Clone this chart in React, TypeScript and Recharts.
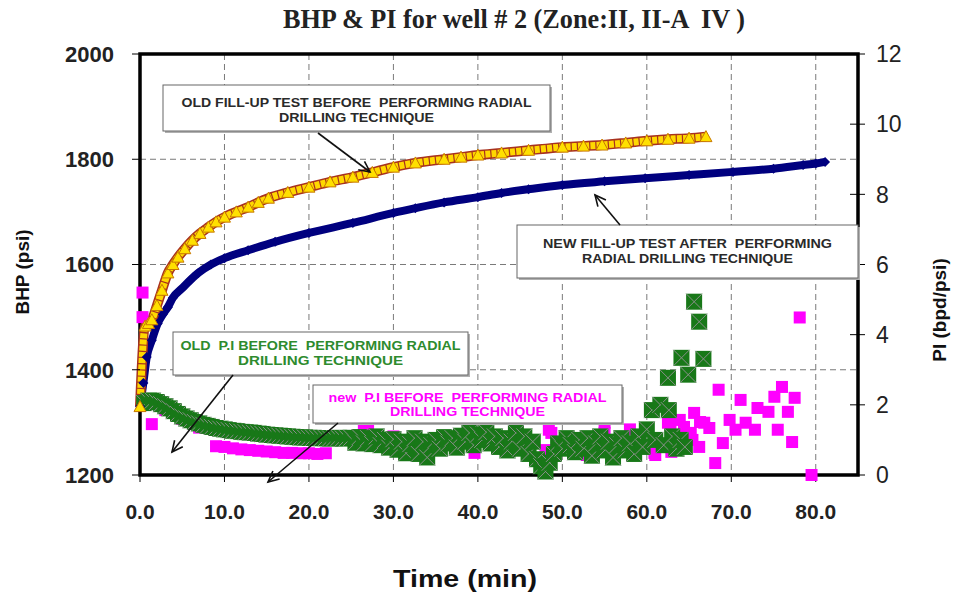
import React from "react";
import { CartesianGrid, ComposedChart, Line, ReferenceArea, Scatter, XAxis, YAxis } from "recharts";

const timeTicks = [0, 10, 20, 30, 40, 50, 60, 70, 80];
const bhpTicks = [1200, 1400, 1600, 1800, 2000];
const piTicks = [0, 2, 4, 6, 8, 10, 12];

// old fill-up test (yellow triangles)
const oldFillTime = [0, 0.6, 1.0, 1.4, 2.0, 2.6, 3.3, 3.9, 4.5, 5.3, 6.2, 7.1, 8.1, 9.0, 10, 11.4, 12.8, 14, 15.2, 17.5, 20, 22.5, 25.2, 27.5, 30, 32.6, 36, 38, 40, 42.8, 46, 50, 52.5, 54.7, 57.5, 60, 62.5, 65, 67];
const oldFillBhp = [1330, 1483, 1488, 1495, 1522, 1551, 1584, 1600, 1614, 1630, 1646, 1659, 1671, 1681, 1690, 1700, 1709, 1718, 1726, 1737, 1747, 1757, 1766, 1775, 1785, 1793, 1800, 1804, 1808, 1812, 1817, 1823, 1825, 1827, 1831, 1835, 1838, 1840, 1843];

// new fill-up test (navy diamonds)
const newFillTime = [0, 0.4, 0.8, 1.4, 2.1, 2.7, 3.3, 3.9, 5.0, 6.0, 6.9, 8.4, 10, 12.8, 16, 20, 25.2, 30, 32.6, 36, 40, 42.8, 46, 50, 55, 59.8, 65, 70.2, 75, 78.5, 80, 81.1];
const newFillBhp = [1330, 1375, 1424, 1456, 1488, 1505, 1519, 1537, 1555, 1571, 1584, 1600, 1612, 1627, 1643, 1660, 1679, 1698, 1707, 1718, 1728, 1736, 1743, 1751, 1758, 1764, 1770, 1776, 1782, 1789, 1792, 1795];

// old P.I (green squares)
const oldPiTime = [
  0.5, 1.0, 1.5, 2.0, 2.5, 3.0, 3.5, 4.0, 4.5, 5.0, 5.5, 6.0, 6.5, 7.0, 7.5, 8.0, 8.5, 9.0, 9.5, 10.0,
  10.5, 11.0, 11.5, 12.0, 12.5, 13.0, 13.5, 14.0, 14.5, 15.0, 15.5, 16.0, 16.5, 17.0, 17.5, 18.0, 18.5, 19.0, 19.5, 20.0,
  20.5, 21.0, 21.5, 22.0, 22.5, 23.0, 23.5, 24.0, 24.5, 25.0, 25.5, 26.0, 26.5, 27.0, 27.5, 28.0, 28.5, 29.0, 29.5, 30.0,
  30.5, 31.0, 31.5, 32.0, 32.5, 33.0, 33.5, 34.0, 34.5, 35.0, 35.5, 36.0, 36.5, 37.0, 37.5, 38.0, 38.5, 39.0, 39.5, 40.0,
  40.5, 41.0, 41.5, 42.0, 42.5, 43.0, 43.5, 44.0, 44.5, 45.0, 45.5, 46.0, 46.5, 47.0, 47.5, 48.0, 48.5, 49.0, 49.5, 50.0,
  50.5, 51.0, 51.5, 52.0, 52.5, 53.0, 53.5, 54.0, 54.5, 55.0, 55.5, 56.0, 56.5, 57.0, 57.5, 58.0, 58.5, 59.0, 59.5, 60.0,
  60.6, 61.0, 61.6, 62.0, 62.5, 62.6, 63.0, 63.5, 64.0, 64.1, 64.5, 64.9, 65.6, 66.2, 66.7,
];
const oldPiValue = [
  2.05, 2.12, 2.12, 2.08, 2.02, 1.96, 1.9, 1.82, 1.74, 1.67, 1.61, 1.56, 1.51, 1.47, 1.43, 1.4, 1.37, 1.34, 1.32, 1.3,
  1.28, 1.26, 1.25, 1.23, 1.22, 1.21, 1.2, 1.18, 1.17, 1.15, 1.14, 1.13, 1.12, 1.11, 1.1, 1.09, 1.08, 1.07, 1.07, 1.06,
  1.06, 1.05, 1.05, 1.05, 1.04, 1.05, 1.06, 1.04, 1.05, 1.06, 0.92, 1.08, 0.9, 1.05, 0.88, 1.1, 0.85, 1.0, 0.78, 1.02,
  0.72, 0.95, 0.62, 0.88, 1.05, 0.6, 0.95, 0.5, 0.85, 1.0, 0.75, 1.08, 0.9, 1.05, 0.78, 1.12, 0.95, 1.2, 0.85, 1.15,
  1.0, 1.22, 0.9, 1.1, 0.8, 1.05, 0.7, 0.95, 1.2, 0.75, 1.1, 0.6, 0.95, 0.45, 0.25, 0.1, 0.35, 0.6, 0.9, 0.75,
  1.05, 0.85, 0.65, 1.0, 0.75, 1.05, 0.55, 0.9, 1.1, 0.7, 0.95, 0.5, 0.85, 1.05, 0.7, 0.9, 0.6, 1.1, 0.8, 1.3,
  1.85, 1.0, 2.0, 0.85, 2.77, 1.85, 1.1, 0.75, 1.0, 3.34, 0.8, 2.86, 4.94, 4.37, 3.31,
];

// new P.I (magenta squares)
const newPiTime = [
  0.3, 0.3, 1.4, 3.0, 5.0, 7.0, 9.0, 10.0, 11.0, 12.0, 13.0, 14.0, 15.0, 16.0, 17.0, 18.0, 19.0, 20.0, 21.0, 22.0,
  26.5, 27.0, 30.0, 35.0, 39.6, 43.2, 43.6, 48.0, 48.4, 48.7, 52.7, 52.9, 55.0, 55.0, 58.0, 60.9, 61.0, 62.5, 62.8, 62.9,
  63.9, 64.4, 65.2, 65.4, 65.6, 66.2, 66.3, 66.8, 67.4, 68.1, 68.5, 69.0, 69.8, 70.5, 71.1, 71.7, 72.8, 73.1, 74.4, 75.1,
  75.5, 76.0, 76.7, 77.2, 77.5, 78.1, 79.5,
];
const newPiValue = [
  5.2, 4.5, 1.45, 1.85, 1.6, 1.35, 0.82, 0.8, 0.76, 0.73, 0.71, 0.69, 0.67, 0.65, 0.63, 0.63, 0.62, 0.62, 0.6, 0.62,
  1.28, 1.3, 1.1, 1.0, 0.63, 1.0, 0.8, 0.71, 1.29, 1.2, 0.63, 0.57, 1.2, 1.49, 1.3, 0.63, 0.57, 1.49, 1.43, 0.66,
  1.57, 1.37, 1.2, 1.0, 1.77, 0.8, 1.51, 1.49, 1.34, 0.34, 2.43, 0.91, 1.57, 1.29, 2.14, 1.49, 1.29, 1.91, 1.8, 2.23,
  1.29, 2.51, 1.8, 0.94, 2.2, 4.49, 0.0,
];

const oldFill = oldFillTime.map((t, i) => ({ t, bhp: oldFillBhp[i] }));
const newFill = newFillTime.map((t, i) => ({ t, bhp: newFillBhp[i] }));
const oldPi = oldPiTime.map((t, i) => ({ t, pi: oldPiValue[i] }));
const newPi = newPiTime.map((t, i) => ({ t, pi: newPiValue[i] }));

const SANS = "'Liberation Sans', Arial, sans-serif";

function Triangle(props: any) {
  const { cx, cy, index } = props;
  if (cx == null || cy == null) return <g key={index} />;
  return (
    <polygon
      key={index}
      points={`${cx},${cy - 6} ${cx - 6},${cy + 5} ${cx + 6},${cy + 5}`}
      fill="#ffe000"
      stroke="#c87800"
      strokeWidth={1}
    />
  );
}

function Diamond(props: any) {
  const { cx, cy, index } = props;
  if (cx == null || cy == null) return <g key={index} />;
  return <polygon key={index} points={`${cx},${cy - 5} ${cx + 5},${cy} ${cx},${cy + 5} ${cx - 5},${cy}`} fill="#00007f" />;
}

function GreenBox(props: any) {
  const { cx, cy } = props;
  const s = 8;
  return (
    <g>
      <rect x={cx - s} y={cy - s} width={2 * s} height={2 * s} fill="#187818" />
      <line x1={cx - s} y1={cy - s} x2={cx + s} y2={cy + s} stroke="#8a8f8a" strokeWidth={1} />
      <line x1={cx - s} y1={cy + s} x2={cx + s} y2={cy - s} stroke="#8a8f8a" strokeWidth={1} />
    </g>
  );
}

function PinkBox(props: any) {
  const { cx, cy } = props;
  return <rect x={cx - 6} y={cy - 6} width={12} height={12} fill="#ff00ff" />;
}

function RightTick(props: any) {
  const { x, y, payload } = props;
  return (
    <g>
      <line x1={x - 26} y1={y} x2={x - 11} y2={y} stroke="#000" strokeWidth={1} />
      <text x={x} y={y} dy="0.36em" textAnchor="start" fontFamily={SANS} fontSize={23} fill="#222">
        {payload.value}
      </text>
    </g>
  );
}

function Arrow({ x1, y1, x2, y2 }: { x1: number; y1: number; x2: number; y2: number }) {
  const a = Math.atan2(y2 - y1, x2 - x1);
  const len = 12;
  const spread = 0.45;
  const p1 = [x2 - len * Math.cos(a - spread), y2 - len * Math.sin(a - spread)];
  const p2 = [x2 - len * Math.cos(a + spread), y2 - len * Math.sin(a + spread)];
  return (
    <g stroke="#111" strokeWidth={1.6} fill="none">
      <line x1={x1} y1={y1} x2={x2} y2={y2} />
      <polyline points={`${p1[0]},${p1[1]} ${x2},${y2} ${p2[0]},${p2[1]}`} />
    </g>
  );
}

function Note({ x, y, w, h, lines, color, widths, base }: any) {
  const cx = x + w / 2;
  return (
    <g>
      <rect x={x + 2} y={y + 2} width={w} height={h} fill="#b0b0b0" />
      <rect x={x} y={y} width={w} height={h} fill="#fff" stroke="#666" strokeWidth={1} />
      {lines.map((s: string, i: number) => (
        <text
          key={i}
          x={cx}
          y={base[i]}
          textAnchor="middle"
          fontFamily={SANS}
          fontWeight="bold"
          fontSize={12.5}
          fill={color}
          textLength={widths[i]}
          lengthAdjust="spacingAndGlyphs"
          style={{ whiteSpace: "pre" }}
        >
          {s}
        </text>
      ))}
    </g>
  );
}

export default function App() {
  return (
    <div style={{ position: "absolute", left: 0, top: 0, width: 956, height: 598, background: "#fff" }}>
      <ComposedChart width={956} height={598} margin={{ top: 54, right: 38, bottom: 80, left: 40 }}>
        <CartesianGrid yAxisId="bhp" stroke="#7a7a7a" strokeDasharray="6 4" strokeWidth={1} />
        <XAxis
          dataKey="t"
          type="number"
          domain={[0, 85]}
          ticks={timeTicks}
          tickFormatter={(v: number) => v.toFixed(1)}
          axisLine={false}
          tickLine={{ stroke: "#000" }}
          tickSize={7}
          tickMargin={22}
          height={43}
          tick={{ fontFamily: SANS, fontWeight: "bold", fontSize: 21, fill: "#222" }}
        />
        <YAxis
          yAxisId="bhp"
          orientation="left"
          type="number"
          domain={[1200, 2000]}
          ticks={bhpTicks}
          width={100}
          axisLine={false}
          tickLine={{ stroke: "#000" }}
          tickSize={8}
          tickMargin={18}
          tick={{ fontFamily: SANS, fontWeight: "bold", fontSize: 22, fill: "#222" }}
        />
        <YAxis
          yAxisId="pi"
          orientation="right"
          type="number"
          domain={[0, 12]}
          ticks={piTicks}
          width={60}
          axisLine={false}
          tickLine={false}
          tickSize={7}
          tickMargin={11}
          tick={<RightTick />}
        />
        <Scatter yAxisId="pi" data={newPi} dataKey="pi" shape={<PinkBox />} isAnimationActive={false} />
        <Scatter yAxisId="pi" data={oldPi} dataKey="pi" shape={<GreenBox />} isAnimationActive={false} />
        <Line
          yAxisId="bhp"
          data={newFill}
          dataKey="bhp"
          type="monotone"
          stroke="#00007f"
          strokeWidth={8}
          dot={Diamond}
          isAnimationActive={false}
        />
        <Line
          yAxisId="bhp"
          data={oldFill}
          dataKey="bhp"
          type="monotone"
          stroke="#a8321e"
          strokeWidth={10}
          dot={false}
          isAnimationActive={false}
        />
        <Line
          yAxisId="bhp"
          data={oldFill}
          dataKey="bhp"
          type="monotone"
          stroke="#ffd800"
          strokeWidth={7}
          strokeDasharray="5 1.2"
          dot={Triangle}
          isAnimationActive={false}
        />
        <ReferenceArea
          yAxisId="bhp"
          x1={0}
          x2={85}
          y1={1200}
          y2={2000}
          fill="none"
          fillOpacity={0}
          stroke="#000"
          strokeWidth={3.5}
          ifOverflow="visible"
        />
      </ComposedChart>
      <svg width={956} height={598} style={{ position: "absolute", left: 0, top: 0, pointerEvents: "none" }}>
        <text
          x={514}
          y={28}
          textAnchor="middle"
          fontFamily="'Liberation Serif', 'Times New Roman', serif"
          fontWeight="bold"
          fontSize={27}
          fill="#222"
          textLength={462}
          lengthAdjust="spacingAndGlyphs"
          style={{ whiteSpace: "pre" }}
        >
          {"BHP & PI for well # 2 (Zone:II, II-A  IV )"}
        </text>
        <text
          transform="translate(29,272) rotate(-90)"
          textAnchor="middle"
          fontFamily={SANS}
          fontWeight="bold"
          fontSize={19}
          fill="#111"
        >
          BHP (psi)
        </text>
        <text
          transform="translate(946,310) rotate(-90)"
          textAnchor="middle"
          fontFamily={SANS}
          fontWeight="bold"
          fontSize={19}
          fill="#111"
        >
          PI (bpd/psi)
        </text>
        <text x={465} y={587} textAnchor="middle" fontFamily={SANS} fontWeight="bold" fontSize={24} fill="#111" textLength={144} lengthAdjust="spacingAndGlyphs">
          Time (min)
        </text>

        <Note
          x={163}
          y={85}
          w={387}
          h={46}
          color="#2a2a2a"
          lines={["OLD FILL-UP TEST BEFORE  PERFORMING RADIAL", "DRILLING TECHNIQUE"]}
          widths={[350, 155]}
          base={[107, 122]}
        />
        <Arrow x1={318} y1={133} x2={370} y2={172} />

        <Note
          x={517}
          y={225}
          w={341}
          h={53}
          color="#2a2a2a"
          lines={["NEW FILL-UP TEST AFTER  PERFORMING", "RADIAL DRILLING TECHNIQUE"]}
          widths={[289, 211]}
          base={[248, 263]}
        />
        <Arrow x1={620} y1={225} x2={595} y2={195} />

        <Note
          x={173}
          y={332}
          w={295}
          h={43}
          color="#2e8b2e"
          lines={["OLD  P.I BEFORE  PERFORMING RADIAL", "DRILLING TECHNIQUE"]}
          widths={[280, 165]}
          base={[350, 365]}
        />
        <Arrow x1={233} y1={375} x2={172} y2={452} />

        <Note
          x={313}
          y={385}
          w={309}
          h={38}
          color="#ff00ff"
          lines={["new  P.I BEFORE  PERFORMING RADIAL", "DRILLING TECHNIQUE"]}
          widths={[278, 155]}
          base={[402, 416]}
        />
        <Arrow x1={338} y1={423} x2={268} y2={482} />
      </svg>
    </div>
  );
}
